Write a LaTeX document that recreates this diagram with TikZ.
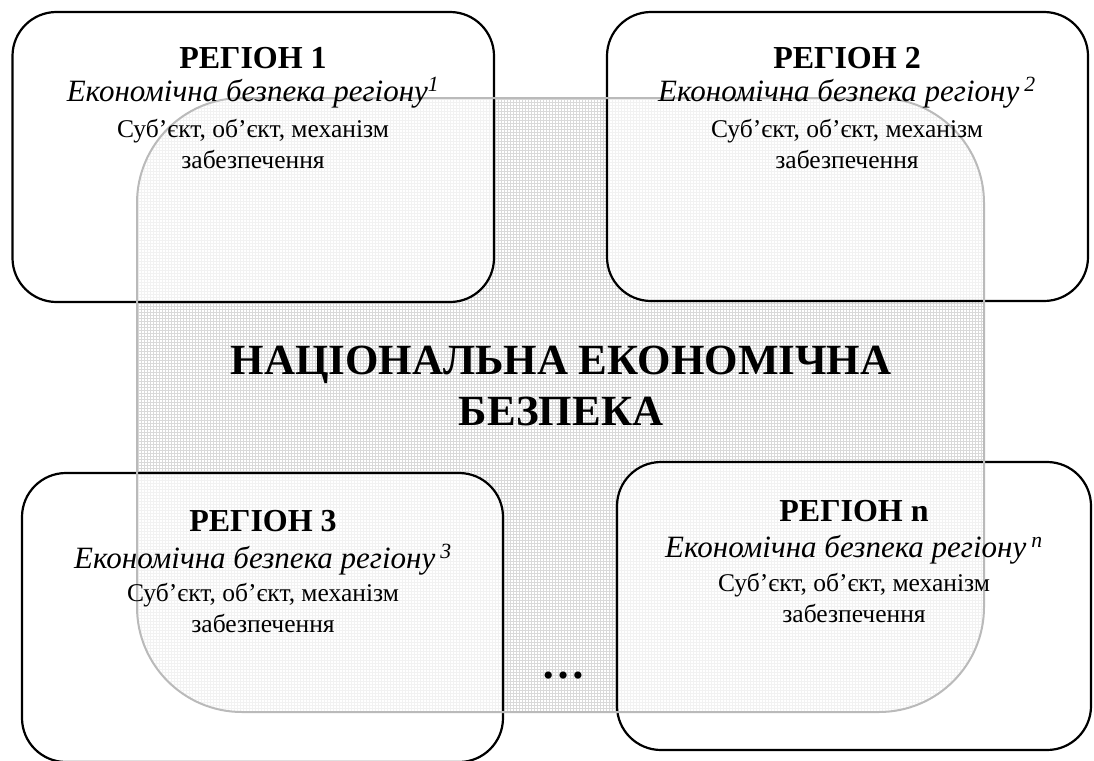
\documentclass[tikz,border=0pt]{standalone}
\usepackage{fontspec}
\setmainfont{Liberation Serif}
\begin{document}
\begin{tikzpicture}[x=1pt,y=-1pt,
  regbox/.style={draw=black, line width=2.2pt, fill=white, rounded corners=44pt},
  head/.style={anchor=base, font=\fontsize{32}{36}\selectfont\bfseries, inner sep=0pt},
  ital/.style={anchor=base, font=\fontsize{31}{36}\selectfont\itshape, inner sep=0pt},
  plain/.style={anchor=base, font=\fontsize{25.5}{30}\selectfont, inner sep=0pt},
  title/.style={anchor=base, font=\fontsize{43}{50}\selectfont\bfseries, inner sep=0pt}
]
\useasboundingbox (0,0) rectangle (1094,760);
% central rectangle with grid pattern
\begin{scope}
  \clip (137,98) rectangle (984,712);
  \fill[white] (137,98) rectangle (984,712);
  \draw[black!10, line width=0.6pt, step=3pt] (137,98) grid (984,712);
\end{scope}
\draw[line width=2pt] (137,98) rectangle (984,712);

% region boxes
\draw[regbox] (12.5,12) rectangle (494,302);
\draw[regbox] (607,12) rectangle (1088,301);
\draw[regbox] (22,473) rectangle (503,762);
\draw[regbox] (617,462) rectangle (1091,750);

% translucent overlay
\begin{scope}
  \clip[rounded corners=105pt] (137,98) rectangle (984,712);
  \draw[black, opacity=0.05, line width=0.6pt, step=3pt] (137,98) grid (984,712);
\end{scope}
\draw[black!27, line width=2pt, rounded corners=105pt] (137,98) rectangle (984,712);

% texts
\node[head] (r1a) at (253,69) {РЕГІОН 1};
\node[ital] (r1b) at (253,101) {Економічна безпека регіону\textsuperscript{1}};
\node[plain] (r1c) at (253,137) {Суб’єкт, об’єкт, механізм};
\node[plain] (r1d) at (253,168) {забезпечення};

\node[head] (r2a) at (847,69) {РЕГІОН 2};
\node[ital] (r2b) at (847,101) {Економічна безпека регіону\,\textsuperscript{2}};
\node[plain] (r2c) at (847,137) {Суб’єкт, об’єкт, механізм};
\node[plain] (r2d) at (847,168) {забезпечення};

\node[head] (r3a) at (263,531) {РЕГІОН 3};
\node[ital] (r3b) at (263,568) {Економічна безпека регіону\,\textsuperscript{3}};
\node[plain] (r3c) at (263,601) {Суб’єкт, об’єкт, механізм};
\node[plain] (r3d) at (263,632) {забезпечення};

\node[head] (rna) at (854,521) {РЕГІОН n};
\node[ital] (rnb) at (854,557) {Економічна безпека регіону\,\textsuperscript{n}};
\node[plain] (rnc) at (854,591) {Суб’єкт, об’єкт, механізм};
\node[plain] (rnd) at (854,622) {забезпечення};

\node[title] (t1) at (561,374) {НАЦІОНАЛЬНА ЕКОНОМІЧНА};
\node[title] (t2) at (561,425) {БЕЗПЕКА};
\node[anchor=base, font=\fontsize{44}{50}\selectfont\bfseries, inner sep=0pt] (dots) at (563,678) {…};
\end{tikzpicture}
\end{document}
